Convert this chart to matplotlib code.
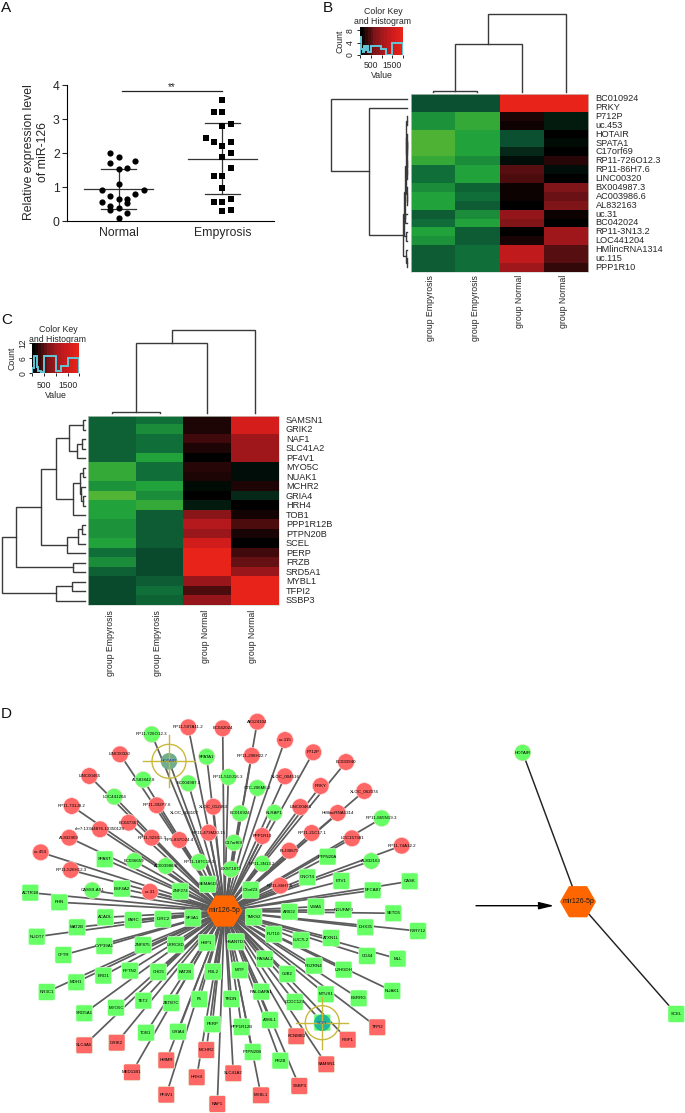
import numpy as np
import matplotlib
matplotlib.use("Agg")
import matplotlib.pyplot as plt
from matplotlib.colors import LinearSegmentedColormap
from matplotlib.patches import Circle, FancyBboxPatch, RegularPolygon

plt.rcParams['font.family'] = ['Liberation Sans', 'DejaVu Sans']
W, H = 685, 1113

# ---------- Panel A data ----------
groups = ['Normal', 'Empyrosis']
normal_offset = [-1, 0, 2, -1, 0, 1, 0, -2, 3, 2, -1, 0, 1, -2, 1, -1, 0, -1, 1, 0]
normal_values = [2.0, 1.88, 1.77, 1.72, 1.54, 1.55, 1.08, 0.9, 0.9, 0.8, 0.73, 0.66, 0.66, 0.55, 0.53, 0.43, 0.38, 0.32, 0.23, 0.1]
empy_offset = [0, -1, 0, 1, 0, -2, -1, 1, 0, 1, 0, 1, -1, 0, 0, 1, -1, 0, 1, 0]
empy_values = [3.56, 3.22, 3.2, 2.86, 2.79, 2.45, 2.33, 2.33, 2.22, 2.0, 1.88, 1.55, 1.33, 1.33, 0.97, 0.66, 0.55, 0.55, 0.32, 0.28]
means = [0.94, 1.82]
upper = [1.54, 2.87]
lower = [0.35, 0.79]

# ---------- Panel B data ----------
b_rows = ['BC010924', 'PRKY', 'P712P', 'uc.453', 'HOTAIR', 'SPATA1', 'C17orf69', 'RP11-726O12.3', 'RP11-86H7.6',
          'LINC00320', 'BX004987.3', 'AC003986.6', 'AL832163', 'uc.31', 'BC042024', 'RP11-3N13.2', 'LOC441204',
          'HMlincRNA1314', 'uc.115', 'PPP1R10']
b_vals = [[-.3, -.3, 1, 1], [-.3, -.3, 1, 1], [-.65, -.85, .12, -.1], [-.65, -.85, .06, -.1],
          [-.98, -.75, -.3, 0], [-.98, -.75, -.3, -.04], [-.98, -.75, -.15, 0], [-.85, -.62, -.05, .15],
          [-.5, -.75, .35, -.05], [-.5, -.75, .3, 0], [-.62, -.42, .05, .5], [-.75, -.5, .05, .42],
          [-.75, -.38, 0, .5], [-.38, -.62, .6, .05], [-.48, -.75, .52, 0], [-.75, -.38, 0, .65],
          [-.65, -.38, .1, .65], [-.38, -.5, .8, .35], [-.38, -.5, .8, .35], [-.38, -.5, .65, .2]]
b_key_edges = [0, 60, 120, 180, 250, 300, 390, 500, 960, 1190, 1470, 2000]
b_key_counts = [6, 2, 1, 3, 1.5, 3, 1, 3, 2, 0, 4]

# ---------- Panel C data ----------
c_rows = ['SAMSN1', 'GRIK2', 'NAF1', 'SLC41A2', 'PF4V1', 'MYO5C', 'NUAK1', 'MCHR2', 'GRIA4', 'HRH4', 'TOB1',
          'PPP1R12B', 'PTPN20B', 'SCEL', 'PERP', 'FRZB', 'SRD5A1', 'MYBL1', 'TFPI2', 'SSBP3']
c_vals = [[-.4, -.5, .12, .9], [-.4, -.62, .12, .9], [-.4, -.5, .25, .65], [-.4, -.5, .12, .65], [-.4, -.75, 0, .65],
          [-.85, -.5, .15, -.05], [-.85, -.5, .12, -.05], [-.65, -.75, -.04, .12], [-1, -.62, 0, -.15],
          [-.75, -.85, -.1, 0], [-.75, -.38, .55, .08], [-.65, -.38, .75, .3], [-.65, -.38, .62, .1],
          [-.75, -.38, .88, 0], [-.5, -.28, 1, .25], [-.62, -.28, 1, .4], [-.4, -.28, 1, .62],
          [-.28, -.38, .62, 1], [-.28, -.5, .3, 1], [-.28, -.42, .6, 1]]
c_key_edges = [0, 60, 180, 250, 350, 480, 1000, 1200, 1500, 2000]
c_key_counts = [2, 7, 2.5, 1, 0.5, 7, 1, 3, 6]
columns = ['group Empyrosis', 'group Empyrosis', 'group Normal', 'group Normal']

# dendrograms: (child, child, height); integers are leaves
b_col_tree = (((0, 1, 1.0), 2, 47.7), 3, 77.4)
c_col_tree = (((0, 1, 1.3), 2, 70), 3, 83.7)
_b2_12 = ((((2, 3, 1.5), ((4, (5, 6, 1), 1.5), (7, (8, 9, 1), 1.5), 2), 2.5),
           (10, (11, 12, 1), 2), 3))
b_row_tree = (0, (1, (((_b2_12, (13, 14, 6), 8), (15, 16, 4), 9),
                      (17, (18, 19, 1), 3), 12), 116), 230)
c_row_tree = (((((((0, 1, 5), ((2, 3, 10), 4, 23), 47),
                  (((5, 6, 5), (7, (8, 9, 7), 12), 15), 10, 37), 88),
                 ((((11, 12, 10), 13, 22), 14, 53)), 131),
                (15, 16, 37), 208),
               ((17, 18, 38), 19, 87), 250))

# ---------- Panel D data: (name, x, y) in network layout units ----------
hub_name = 'mir126-5p'
hub_left = (224.5, 911)
hub_right = (578, 901.7)
right_nodes = [('HOTAIR', 522.7, 752.7, 'circle'), ('SCEL', 676.3, 1014, 'square')]
arrow_span = (476, 554, 905.7)

red_circles = [('RP11-597A11.2', 188.3, 727.3), ('BC042024', 222.7, 728.3), ('LINC00320', 120, 754.3),
               ('LINC00465', 89.3, 776), ('RP11-731J8.2', 71.7, 806), ('RP11-392P7.6', 156.7, 805.3),
               ('BC047367', 128.7, 822.7), ('chr7:13344876-13350129', 100, 829.3), ('RP11-923I11.3', 151.7, 837.7),
               ('RP5-837O24.4', 179.3, 840), ('RP11-473M20.15', 208.7, 832.7), ('AL832909', 69.3, 837.7),
               ('uc.453', 40.7, 852.3), ('RP11-526H12.3', 70.7, 870), ('uc.31', 150, 891.7),
               ('XLOC_012463', 213.3, 806.7), ('AK124104', 257.3, 721.7), ('RP11-298H22.7', 251.7, 755.7),
               ('uc.115', 285, 740), ('P712P', 313.3, 752.3), ('BC033940', 346, 762), ('XLOC_004516', 285, 776.3),
               ('PRKY', 320.7, 786), ('XLOC_062074', 364.3, 791), ('LINC00461', 300.3, 807),
               ('HMlincRNA1314', 337.7, 813), ('RP11-21C17.1', 311.7, 833), ('PPP1R10', 262.3, 836),
               ('FLJ30679', 289.3, 850.7), ('LOC157381', 352, 838.3), ('RP11-74A12.2', 401.7, 845.7),
               ('RP11-86H7.6', 280.3, 885.7)]
green_circles = [('RP11-726O12.3', 151.7, 734.3), ('SPATA1', 206.7, 756.7), ('AL583842.8', 143.3, 779.7),
                 ('BC004987.3', 188.3, 783.3), ('LOC441204', 114.3, 796.7), ('BC036659', 134.3, 861),
                 ('AC003986.6', 165.7, 866), ('RP11-187C18.3', 199, 862), ('CASS9-AS1', 92.3, 890.3),
                 ('RP11-510J16.3', 228.3, 777), ('CTC-206M6.2', 257.3, 788), ('BC016924', 240, 813.3),
                 ('KLRAP1', 274.3, 812.7), ('C17orf69', 234, 842.7), ('RP11-865N19.3', 381.7, 818.3),
                 ('AL832163', 371.3, 861), ('RP11-3N13.2', 262.3, 863.7), ('EXST1872', 231, 869.3)]
green_squares = [('SPAST', 104.7, 859.3), ('ESF4A2', 122, 888.7), ('ZNF274', 180.3, 891.3), ('SEMA6D', 207.7, 884.3),
                 ('ACTR1B', 30.3, 892.7), ('PHN', 59.3, 902.3), ('PTPN20A', 327.7, 856.7), ('CNOT4', 307.3, 877.3),
                 ('ETV1', 341.3, 881), ('CASK', 409.7, 881.3), ('EFCAB7', 372.7, 890.3), ('C3orf23', 250.7, 890),
                 ('ARID2', 289.3, 911.7), ('VWA5', 316, 906.7), ('NDUFAF3', 343.3, 909.7), ('SETD5', 393.3, 913.3),
                 ('DHX35', 365.3, 927.3), ('P2RY12', 418, 931), ('TMKS2', 253.7, 917), ('FUT10', 273.7, 934.3),
                 ('LUC7L2', 301, 940.3), ('ATXN1L', 331, 938), ('CD44', 367, 956), ('MLL', 397.7, 958.7),
                 ('HSANTD1', 236, 941.7), ('RASAL2', 264.7, 959), ('PDZRN4', 314, 965.7), ('L2HGDH', 343.7, 969.7),
                 ('NUAK1', 392.3, 991), ('MITF', 239.7, 970.3), ('GJB2', 287.3, 974), ('ESRRG', 358.7, 998.3),
                 ('MTUS1', 325.7, 994.3), ('TRDN', 231.3, 999), ('RALGAPA1', 261.3, 991.7), ('CCDC123', 294.7, 1002),
                 ('A2ML1', 270, 1020), ('PPP1R12B', 241.7, 1027), ('PTPN20B', 252.7, 1052), ('FRZB', 280.3, 1060.7),
                 ('ACADL', 105.3, 917.3), ('FARC', 133, 920), ('DIRC2', 162.7, 919), ('SF3A1', 192.7, 918),
                 ('MAT2B', 77, 927.3), ('NUDT7', 36.7, 936.7), ('CYP39A1', 104.3, 946), ('ZNF875', 143, 945),
                 ('LRRC8D', 175.7, 944.7), ('HBP1', 206.7, 942.7), ('CFTR', 63.3, 955), ('RFTN2', 130, 970.7),
                 ('BRD1', 103.3, 975.7), ('CHD5', 158.3, 972), ('KAT2B', 185.7, 971.7), ('RBL2', 213, 971.7),
                 ('MDH1', 76.3, 982.3), ('NR3C1', 46.7, 992), ('ZBTB7C', 171.3, 1003), ('TET2', 143.3, 1000.7),
                 ('F5', 199.3, 999.3), ('MYO5C', 116, 1007.7), ('SRD5A1', 84.3, 1013.3), ('PERP', 212.3, 1024.3),
                 ('GRIA4', 178, 1031.7), ('TOB1', 146, 1032.7)]
red_squares = [('KCNMB3', 296.3, 1036.3), ('FSIP1', 347.7, 1039.7), ('TFPI2', 377.3, 1027.3), ('SAMSN1', 326.3, 1064.3),
               ('SSBP3', 299.3, 1086), ('SLC41A2', 233.3, 1073.3), ('MYBL1', 261, 1095.3), ('NAF1', 217.3, 1104),
               ('SLC4A5', 84.3, 1045.3), ('GRIK2', 116.7, 1042.7), ('MCHR2', 206.3, 1050), ('HMMR', 166.3, 1060.3),
               ('MED11B1', 132, 1072.3), ('HRH4', 196.7, 1077.3), ('PF4V1', 166.3, 1094.7)]
bare_labels = [('XLOC_013107', 184.3, 812)]
selected = [('HOTAIR', 169, 761.3, 'circle', '#6FAE8E'), ('SCEL', 322.3, 1022.7, 'square', '#1FB89A')]


def px_axes(l, t, r, b, **kw):
    return fig.add_axes([l / W, 1 - b / H, (r - l) / W, (b - t) / H], **kw)


fig = plt.figure(figsize=(W / 100, H / 100), dpi=100)
overlay = px_axes(0, 0, W, H)
overlay.set_xlim(0, W)
overlay.set_ylim(H, 0)
overlay.axis('off')

TXT = '#262626'
for letter, x, y in [('A', 1, 8), ('B', 323, 8), ('C', 1, 320), ('D', 1, 714)]:
    overlay.text(x, y, letter, fontsize=11, va='center', ha='left', color='#111111')

# ---------- Panel A ----------
ax = px_axes(66.7, 85, 274.3, 221)
ax.set_xlim(0.5, 2.5)
ax.set_ylim(0, 4)
ax.patch.set_alpha(0)
for s in ('top', 'right'):
    ax.spines[s].set_visible(False)
ax.spines['left'].set_linewidth(0.8)
ax.spines['bottom'].set_linewidth(0.8)
ax.set_yticks(range(5))
ax.set_xticks([1, 2], groups)
ax.tick_params(axis='y', length=3.5, width=0.8, labelsize=8.8, pad=1.5, colors=TXT)
ax.tick_params(axis='x', length=0, labelsize=8.8, pad=4, colors=TXT)
ax.scatter(1 + 0.0804 * np.array(normal_offset), normal_values, s=20, c='black', marker='o', zorder=3, linewidths=0)
ax.scatter(2 + 0.0804 * np.array(empy_offset), empy_values, s=17, c='black', marker='s', zorder=3, linewidths=0)
for i, c in enumerate((1, 2)):
    ax.plot([c - 0.335, c + 0.335], [means[i]] * 2, color='#333333', lw=0.9, zorder=2)
    ax.plot([c, c], [lower[i], upper[i]], color='#333333', lw=0.9, zorder=2)
    ax.plot([c - 0.17, c + 0.17], [upper[i]] * 2, color='#333333', lw=0.9, zorder=2)
    ax.plot([c - 0.17, c + 0.17], [lower[i]] * 2, color='#333333', lw=0.9, zorder=2)
ax.plot([1.03, 2], [3.82, 3.82], color='#222222', lw=0.9, clip_on=False)
ax.text(1.515, 3.8, '**', ha='center', va='bottom', fontsize=7, color=TXT)
overlay.text(36, 152, 'Relative expression level\nof miR-126', rotation=90, ha='center', va='center',
             fontsize=8.8, color=TXT, linespacing=1.15)

# ---------- Heatmaps ----------
cmap = LinearSegmentedColormap.from_list('gbr', [
    (0.0, '#52B434'), (0.125, '#22A33A'), (0.19, '#1A8C3A'), (0.25, '#11703A'), (0.35, '#0B5030'),
    (0.5, '#000000'), (0.75, '#7E1518'), (0.9, '#C01A1E'), (1.0, '#E8231A')])
redkey = LinearSegmentedColormap.from_list('key', ['#000000', '#7E1518', '#C01A1E', '#E8231A'], N=16)


def draw_col_tree(a, node):
    if isinstance(node, int):
        return node + 0.5, 0.0
    x1, h1 = draw_col_tree(a, node[0])
    x2, h2 = draw_col_tree(a, node[1])
    h = node[2]
    a.plot([x1, x1, x2, x2], [h1, h, h, h2], color='#3a3a3a', lw=1.0, solid_joinstyle='miter', clip_on=False)
    return (x1 + x2) / 2, h


def draw_row_tree(a, node):
    if isinstance(node, int):
        return node + 0.5, 0.0
    y1, h1 = draw_row_tree(a, node[0])
    y2, h2 = draw_row_tree(a, node[1])
    h = node[2]
    a.plot([h1, h, h, h2], [y1, y1, y2, y2], color='#3a3a3a', lw=1.0, solid_joinstyle='miter', clip_on=False)
    return (y1 + y2) / 2, h


def heat_panel(vals, rows, box, col_tree, col_box, col_max, row_tree, row_box, row_max, label_x, col_label_y, key_box,
               edges, counts, yticks, ymax, tx, ty, key_pad):
    l, t, r, b = box
    a = px_axes(l, t, r, b)
    a.imshow(vals, cmap=cmap, vmin=-1, vmax=1, aspect='auto', interpolation='nearest', extent=(0, 4, 20, 0))
    a.set_xticks([])
    a.set_yticks([])
    for s in a.spines.values():
        s.set_color('#cfd8cf')
        s.set_linewidth(0.5)
    for i, name in enumerate(rows):
        overlay.text(label_x, t + (b - t) * (i + 0.5) / 20, name, fontsize=6.6, va='center', ha='left', color=TXT)
    for j, name in enumerate(columns):
        overlay.text(l + (r - l) * (j + 0.5) / 4 - 2, col_label_y, name, rotation=90, fontsize=6.3, va='top',
                     ha='center', color=TXT)
    ct = px_axes(*col_box)
    ct.set_xlim(0, 4)
    ct.set_ylim(0, col_max)
    ct.axis('off')
    draw_col_tree(ct, col_tree)
    rt = px_axes(*row_box)
    rt.set_xlim(row_max, 0)
    rt.set_ylim(20, 0)
    rt.axis('off')
    draw_row_tree(rt, row_tree)
    # colour key
    k = px_axes(*key_box)
    k.imshow(np.linspace(0, 1, 16)[None, :], cmap=redkey, aspect='auto', extent=(0, 2000, 0, ymax),
             interpolation='nearest')
    k.stairs(counts, edges, color='#62C6D8', lw=1.4)
    k.set_xlim(0, 2000)
    k.set_ylim(0, ymax)
    for s in k.spines.values():
        s.set_visible(False)
    k.set_xticks([0, 500, 1000, 1500, 2000], ['', '500', '', '1500', ''])
    k.set_yticks(yticks, [str(v) for v in yticks], rotation=90, va='center')
    k.tick_params(length=2.5, width=0.7, labelsize=6.2, colors=TXT)
    k.tick_params(axis='x', pad=key_pad)
    k.tick_params(axis='y', pad=1.2)
    k.set_xlabel('Value', fontsize=6.3, labelpad=1, color=TXT)
    k.set_ylabel('Count', fontsize=6.3, labelpad=1, color=TXT)
    overlay.text(tx, ty, 'Color Key\nand Histogram', ha='center', va='center', fontsize=6.3, color=TXT,
                 linespacing=1.05)


heat_panel(b_vals, b_rows, (410.7, 94.3, 588, 271.7), b_col_tree, (410.7, 0, 588, 91.7), 91.7, b_row_tree,
           (320, 94.3, 407.3, 271.7), 262, 595.7, 275, (360, 27.3, 403, 55), b_key_edges, b_key_counts, [0, 4, 8], 9,
           383, 16.5, 1.5)
heat_panel(c_vals, c_rows, (88.3, 415.7, 278.7, 605.3), c_col_tree, (88.3, 310, 278.7, 413.3), 103.3, c_row_tree,
           (0, 415.7, 85, 605.3), 255, 286, 610, (32.3, 343.3, 79.3, 373.3), c_key_edges, c_key_counts, [0, 6, 12], 12,
           58, 334.5, 2.8)

# ---------- Panel D ----------
GREEN, RED = '#66FF66', '#FF6666'
EDGE = dict(color='#5c5c5c', lw=1.25, zorder=1, solid_capstyle='butt')
LBL = dict(fontsize=3.2, ha='center', va='center', color='#000000', zorder=5)


def draw_circle(x, y, color):
    overlay.add_patch(Circle((x, y), 8.3, facecolor=color, edgecolor='#ffe0e0', lw=0.4, zorder=3))


def draw_square(x, y, color):
    overlay.add_patch(FancyBboxPatch((x - 7, y - 7), 14, 14, boxstyle='round,pad=1.3,rounding_size=1.6',
                                     facecolor=color, edgecolor='#e0ffe0', lw=0.4, zorder=3))


for group, shape, color in [(red_circles, draw_circle, RED), (green_circles, draw_circle, GREEN),
                            (green_squares, draw_square, GREEN), (red_squares, draw_square, RED)]:
    for name, x, y in group:
        overlay.plot([x, hub_left[0]], [y, hub_left[1]], **EDGE)
        shape(x, y, color)
        overlay.text(x, y, name, **LBL)
for name, x, y in bare_labels:
    overlay.plot([x, hub_left[0]], [y, hub_left[1]], **EDGE)
    overlay.text(x, y, name, **LBL)
for name, x, y, kind, tint in selected:
    overlay.plot([x, hub_left[0]], [y, hub_left[1]], **EDGE)
    if kind == 'square':
        draw_square(x, y, GREEN)
    overlay.add_patch(Circle((x, y), 8.3, facecolor=tint, edgecolor='none', zorder=3.5))
    overlay.add_patch(Circle((x, y), 17, facecolor='none', edgecolor='#C9B93B', lw=1.0, zorder=4))
    overlay.plot([x - 26, x + 26], [y, y], color='#C9B93B', lw=1.0, zorder=4)
    overlay.plot([x, x], [y - 26, y + 26], color='#C9B93B', lw=1.0, zorder=4)
    overlay.text(x, y, name, fontsize=3.2, ha='center', va='center', color='#1A3FC0', zorder=5)

for cx, cy in (hub_left, hub_right):
    overlay.add_patch(RegularPolygon((cx, cy), 6, radius=18, orientation=np.pi / 2, facecolor='#FF6600',
                                     edgecolor='none', zorder=4))
    overlay.text(cx, cy, hub_name, fontsize=5, ha='center', va='center', color='#1a1a1a', zorder=5)

for name, x, y, kind in right_nodes:
    overlay.plot([x, hub_right[0]], [y, hub_right[1]], color='#222222', lw=1.05, zorder=1)
    (draw_circle if kind == 'circle' else draw_square)(x, y, GREEN)
    overlay.text(x, y, name, **LBL)
overlay.annotate('', xy=(arrow_span[1], arrow_span[2]), xytext=(arrow_span[0], arrow_span[2]),
                 arrowprops=dict(arrowstyle='-|>,head_length=0.9,head_width=0.22', color='black', lw=1.0,
                                 shrinkA=0, shrinkB=0))

fig.savefig('out.png', dpi=100, facecolor='white')
